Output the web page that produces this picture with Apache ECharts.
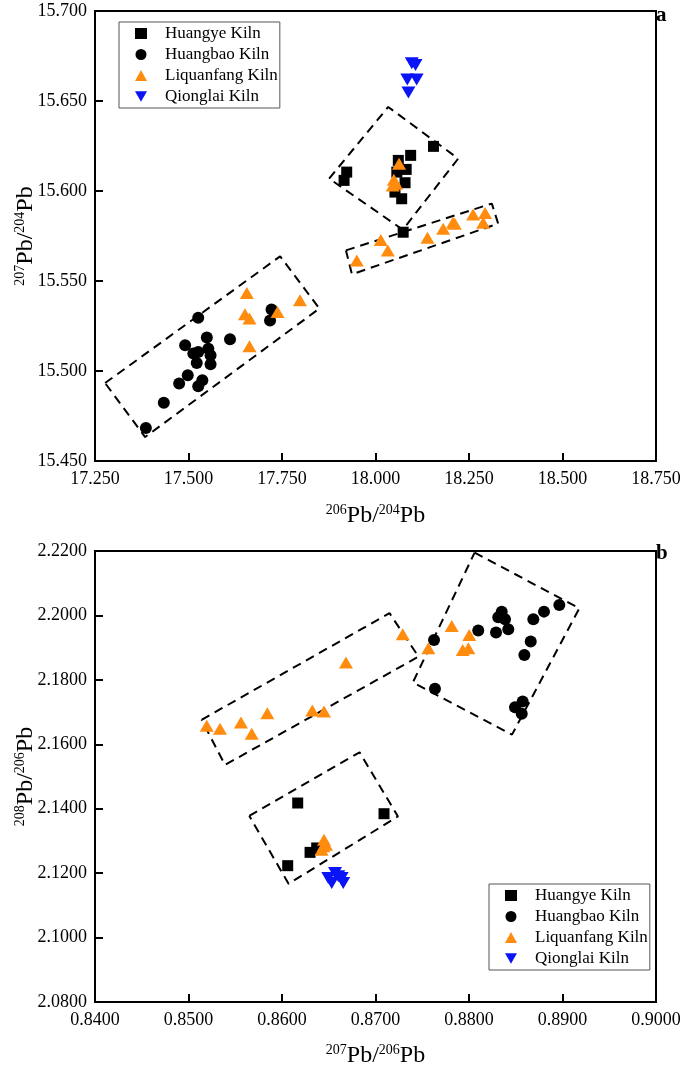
<!DOCTYPE html>
<html>
<head>
<meta charset="utf-8">
<script src="https://cdn.jsdelivr.net/npm/echarts@6/dist/echarts.min.js"></script>
<style>html,body{margin:0;padding:0;background:#fff}#c{width:685px;height:1069px}</style>
</head>
<body>
<div id="c"></div>
<script>
// ---------- Data ----------
const seriesNames = ['Huangye Kiln', 'Huangbao Kiln', 'Liquanfang Kiln', 'Qionglai Kiln'];

// Panel a: 206Pb/204Pb (x) vs 207Pb/204Pb (y)
const a_huangye = [[18.155,15.6248],[18.094,15.6198],[17.923,15.6105],[17.916,15.6059],[18.061,15.6170],[18.082,15.6120],[18.057,15.6105],[18.079,15.6046],[18.052,15.5994],[18.070,15.5957],[18.074,15.5771]];
const a_huangbao = [[17.386,15.4683],[17.434,15.4824],[17.475,15.4930],[17.498,15.4976],[17.526,15.4915],[17.537,15.4948],[17.522,15.5045],[17.513,15.5097],[17.491,15.5143],[17.526,15.5106],[17.549,15.5186],[17.553,15.5124],[17.559,15.5087],[17.559,15.5037],[17.526,15.5296],[17.611,15.5176],[17.722,15.5342],[17.718,15.5281]];
const a_liquanfang = [[18.063,15.6152],[18.049,15.6063],[18.046,15.6031],[18.055,15.6040],[17.950,15.5614],[18.014,15.5728],[18.033,15.5670],[18.139,15.5740],[18.181,15.5790],[18.207,15.5824],[18.212,15.5818],[18.261,15.5870],[18.293,15.5878],[18.288,15.5824],[17.656,15.5433],[17.651,15.5315],[17.663,15.5291],[17.738,15.5328],[17.798,15.5393],[17.663,15.5137]];
const a_qionglai = [[18.097,15.6710],[18.107,15.6700],[18.085,15.6620],[18.110,15.6620],[18.088,15.6547]];
const a_boxes = [
  [[17.876,15.6069],[18.034,15.6467],[18.221,15.6180],[18.073,15.5785],[17.876,15.6069]],
  [[17.921,15.5670],[18.311,15.5930],[18.328,15.5819],[17.937,15.5537],[17.921,15.5670]],
  [[17.277,15.4933],[17.745,15.5637],[17.850,15.5347],[17.384,15.4633],[17.277,15.4933]]
];
const a_xTicks = {min: 17.25, max: 18.75, interval: 0.25, digits: 3};
const a_yTicks = {min: 15.45, max: 15.70, interval: 0.05, digits: 3};

// Panel b: 207Pb/206Pb (x) vs 208Pb/206Pb (y)
const b_huangye = [[0.86168,2.14177],[0.87091,2.13845],[0.86061,2.12232],[0.86300,2.12645],[0.86371,2.12782]];
const b_huangbao = [[0.87626,2.19240],[0.87636,2.17721],[0.88099,2.19529],[0.88289,2.19467],[0.88350,2.20118],[0.88313,2.19944],[0.88385,2.19882],[0.88420,2.19572],[0.88688,2.19882],[0.88802,2.20118],[0.88966,2.20326],[0.88660,2.19188],[0.88592,2.18775],[0.88574,2.17327],[0.88492,2.17153],[0.88564,2.16946]];
const b_liquanfang = [[0.85195,2.16574],[0.85337,2.16481],[0.85561,2.16676],[0.85676,2.16325],[0.85843,2.16967],[0.86324,2.17048],[0.86449,2.17017],[0.86684,2.18537],[0.87291,2.19417],[0.87565,2.18983],[0.87815,2.19674],[0.88003,2.19395],[0.87933,2.18930],[0.87993,2.18983],[0.86449,2.13039],[0.86442,2.12831],[0.86471,2.12884],[0.86424,2.12729]];
const b_qionglai = [[0.86567,2.12006],[0.86495,2.11851],[0.86638,2.11851],[0.86532,2.11696],[0.86655,2.11696],[0.86602,2.11900]];
const b_boxes = [
  [[0.8565,2.1378],[0.8683,2.1575],[0.8724,2.1376],[0.8607,2.1167],[0.8565,2.1378]],
  [[0.8514,2.1676],[0.8715,2.2007],[0.8746,2.1872],[0.8539,2.1536],[0.8514,2.1676]],
  [[0.8806,2.2195],[0.8918,2.2022],[0.8846,2.1630],[0.8740,2.1792],[0.8806,2.2195]]
];
const b_xTicks = {min: 0.84, max: 0.90, interval: 0.01, digits: 4};
const b_yTicks = {min: 2.08, max: 2.22, interval: 0.02, digits: 4};

// ---------- Styles ----------
const FONT = 'Liberation Serif';
const COLORS = ['#000000', '#000000', '#FF8C0F', '#0A14F5'];
const DOWN_TRI = 'path://M0,0 L10,0 L5,8.66 Z';
const SYMBOLS = ['rect', 'circle', 'triangle', DOWN_TRI];
const SIZES = [11, 12, [14, 12], [14, 12]];

function axisName(a, b) {
  return '{s|' + a + '}{n|Pb/}{s|' + b + '}{n|Pb}';
}
const nameRich = {
  n: {fontFamily: FONT, fontSize: 24, color: '#000', lineHeight: 28},
  s: {fontFamily: FONT, fontSize: 14, color: '#000', lineHeight: 28, padding: [0, 0, 12, 0]}
};

function makeAxis(t, gridIndex, isX, name, gap) {
  return {
    type: 'value', gridIndex: gridIndex,
    min: t.min, max: t.max, interval: t.interval,
    axisLine: {show: true, lineStyle: {color: '#000', width: 2}},
    axisTick: {show: true, inside: true, length: 8, lineStyle: {color: '#000', width: 2}},
    splitLine: {show: false},
    axisLabel: {color: '#000', fontFamily: FONT, fontSize: 18, margin: isX ? 9 : 8,
      formatter: v => v.toFixed(t.digits)},
    name: name, nameLocation: 'middle', nameGap: gap, nameMoveOverlap: false,
    nameRotate: isX ? 0 : 90,
    nameTextStyle: {rich: nameRich}
  };
}

const series = [];
function addPanel(idx, groups, boxes) {
  boxes.forEach(b => series.push({
    type: 'line', xAxisIndex: idx, yAxisIndex: idx, data: b, symbol: 'none',
    lineStyle: {color: '#000', width: 2, type: [9, 6]}, z: 1, silent: true, animation: false
  }));
  groups.forEach((g, i) => series.push({
    type: 'scatter', name: seriesNames[i], xAxisIndex: idx, yAxisIndex: idx, data: g,
    symbol: SYMBOLS[i], symbolSize: SIZES[i], itemStyle: {color: COLORS[i], opacity: 1},
    z: 3, animation: false
  }));
}
addPanel(0, [a_huangye, a_huangbao, a_liquanfang, a_qionglai], a_boxes);
addPanel(1, [b_huangye, b_huangbao, b_liquanfang, b_qionglai], b_boxes);

function legend(left, top) {
  return {
    data: seriesNames, orient: 'vertical', left: left, top: top,
    padding: [3, 2, 3, 16], itemGap: 4, itemWidth: 12, itemHeight: 11,
    borderColor: '#555', borderWidth: 1, backgroundColor: '#fff',
    selectedMode: false,
    textStyle: {fontFamily: FONT, fontSize: 17, color: '#000', lineHeight: 17, padding: [0, 0, 0, 13]}
  };
}

const chart = echarts.init(document.getElementById('c'), null, {renderer: 'canvas'});
chart.setOption({
  backgroundColor: '#fff',
  animation: false,
  grid: [
    {left: 95, top: 11, width: 561, height: 450, show: true, borderColor: '#000', borderWidth: 2, outerBoundsMode: 'none', containLabel: false},
    {left: 95, top: 551, width: 561, height: 451, show: true, borderColor: '#000', borderWidth: 2, outerBoundsMode: 'none', containLabel: false}
  ],
  xAxis: [
    makeAxis(a_xTicks, 0, true, axisName('206', '204'), 41),
    makeAxis(b_xTicks, 1, true, axisName('207', '206'), 40)
  ],
  yAxis: [
    makeAxis(a_yTicks, 0, false, axisName('207', '204'), 55),
    makeAxis(b_yTicks, 1, false, axisName('208', '206'), 55)
  ],
  legend: [legend(119, 22), legend(489, 884)],
  graphic: [
    {type: 'text', left: 656, top: 5, style: {text: 'a', fontFamily: FONT, fontSize: 21, fontWeight: 'bold', fill: '#000'}},
    {type: 'text', left: 656, top: 543, style: {text: 'b', fontFamily: FONT, fontSize: 21, fontWeight: 'bold', fill: '#000'}}
  ],
  series: series
});
</script>
</body>
</html>
